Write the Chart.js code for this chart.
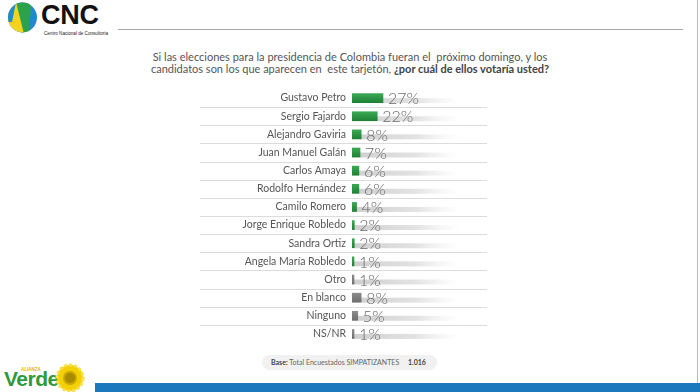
<!DOCTYPE html>
<html><head><meta charset="utf-8">
<script src="https://cdn.jsdelivr.net/npm/chart.js@4.4.1/dist/chart.umd.min.js"></script>
<style>
html,body{margin:0;padding:0;background:#fff;}
#page{position:relative;width:700px;height:392px;overflow:hidden;background:#fff;font-family:Lato,"Open Sans",sans-serif;}
#wrap{position:absolute;left:190px;top:89px;width:310px;height:254px;}
.title{position:absolute;left:0;width:700px;text-align:center;color:#555;font-size:11px;line-height:12px;}
</style></head>
<body><div id="page">
<svg style="position:absolute;left:7px;top:2px" width="32" height="32" viewBox="0 0 32 32">
<defs><clipPath id="c"><ellipse cx="15.5" cy="15.5" rx="14.5" ry="15"/></clipPath></defs>
<g clip-path="url(#c)">
<rect x="0" y="0" width="32" height="32" fill="#1f8bcb"/>
<polygon points="9,0 24,0 22,32 12,32" fill="#2ea24a"/>
<polygon points="9,0 17,32 0,32 0,0" fill="#f2d322"/>
<polygon points="0,0 9,0 5,20 0,20" fill="#1f8bcb"/>
</g></svg>
<div style="position:absolute;left:41px;top:0px;font:bold 27px 'Liberation Sans',Arial,sans-serif;color:#111;letter-spacing:-0.3px">CNC</div>
<div style="position:absolute;left:44px;top:31px;font:4.6px 'Liberation Sans',Arial,sans-serif;color:#222">Centro Nacional de Consultoría</div>
<div style="position:absolute;left:118px;top:29px;width:565px;height:1px;background:#aaa"></div>
<div style="position:absolute;left:697px;top:0;width:1px;height:383px;background:#bbb"></div>
<div class="title" style="top:51px">Si las elecciones para la presidencia de Colombia fueran el&nbsp; próximo domingo, y los</div>
<div class="title" style="top:63px">candidatos son los que aparecen en&nbsp; este tarjetón, <b style="color:#444">¿por cuál de ellos votaría usted?</b></div>
<div id="wrap"><canvas id="chart"></canvas></div>
<div style="position:absolute;left:262px;top:355px;width:175px;height:15px;border-radius:8px;background:#f1f1f1;font-size:7px;line-height:15px;color:#666;">
<span style="margin-left:9px"><b style="color:#444">Base:</b> Total Encuestados SIMPATIZANTES</span><b style="position:absolute;left:146px;color:#444">1.016</b></div>
<div style="position:absolute;left:21px;top:367px;font:bold 4.5px 'Liberation Sans',sans-serif;color:#e3b600">ALIANZA</div>
<div style="position:absolute;left:4px;top:367px;font:bold 21px 'Liberation Sans',Arial,sans-serif;color:#2f9a3c;letter-spacing:-0.5px">Verde</div>
<svg style="position:absolute;left:55px;top:363px" width="30" height="29" viewBox="0 0 30 29">
<circle cx="15" cy="15" r="13" fill="#f4d000"/>
<circle cx="15" cy="15" r="13" fill="none" stroke="#f7e04a" stroke-width="3" stroke-dasharray="3 2"/>
<circle cx="15" cy="15" r="7" fill="#c9a600"/>
<circle cx="15" cy="15" r="5" fill="#a88a00"/>
</svg>
<div style="position:absolute;left:95px;top:383px;width:605px;height:9px;background:#1b78bd"></div>
</div>
<script>
const categories = ["Gustavo Petro","Sergio Fajardo","Alejandro Gaviria","Juan Manuel Galán","Carlos Amaya","Rodolfo Hernández","Camilo Romero","Jorge Enrique Robledo","Sandra Ortiz","Angela María Robledo","Otro","En blanco","Ninguno","NS/NR"];
const values = [27,22,8,7,6,6,4,2,2,1,1,8,5,1];
const isCandidate = [true,true,true,true,true,true,true,true,true,true,false,false,false,false];

function barColor(ctx){
  const chart = ctx.chart, a = chart.chartArea;
  const i = ctx.dataIndex;
  if(!a) return isCandidate[i] ? '#2f9c45' : '#808080';
  const y = chart.scales.y.getPixelForValue(i);
  const g = chart.ctx.createLinearGradient(0, y-4.5, 0, y+4.5);
  if(isCandidate[i]){ g.addColorStop(0,'#3aa853'); g.addColorStop(1,'#1f8236'); }
  else { g.addColorStop(0,'#8c8c8c'); g.addColorStop(1,'#6e6e6e'); }
  return g;
}

const decor = {
  id:'decor',
  beforeDatasetsDraw(chart){
    const {ctx, chartArea:a, scales:{y}} = chart;
    const step = y.getPixelForValue(1) - y.getPixelForValue(0);
    ctx.save();
    for(let i=0;i<categories.length;i++){
      const cy = y.getPixelForValue(i);
      const g = ctx.createLinearGradient(a.left,0,a.left+108,0);
      g.addColorStop(0,'rgba(200,200,200,0.9)');
      g.addColorStop(0.6,'rgba(215,215,215,0.7)');
      g.addColorStop(1,'rgba(235,235,235,0)');
      ctx.fillStyle = g;
      ctx.fillRect(a.left, cy, 108, 5);
      const ly = Math.round(cy + step/2) + 0.5;
      ctx.strokeStyle = '#dcdcdc'; ctx.lineWidth = 1;
      ctx.beginPath(); ctx.moveTo(a.left-152, ly); ctx.lineTo(a.left+135, ly); ctx.stroke();
    }
    ctx.restore();
  },
  afterDatasetsDraw(chart){
    const {ctx} = chart;
    const meta = chart.getDatasetMeta(0);
    ctx.save();
    ctx.font = '300 16px Lato, "Open Sans", sans-serif';
    ctx.fillStyle = '#676767';
    ctx.textBaseline = 'middle';
    ctx.textAlign = 'left';
    meta.data.forEach((bar,i)=>{
      ctx.fillText(values[i] + '%', bar.x + 5, bar.y + 1);
    });
    ctx.restore();
  }
};

new Chart(document.getElementById('chart'), {
  type:'bar',
  data:{labels:categories, datasets:[{data:values,
    backgroundColor: barColor,
    barThickness:9, minBarLength:2, borderWidth:0}]},
  options:{
    indexAxis:'y', responsive:true, maintainAspectRatio:false, animation:false,
    layout:{padding:0},
    plugins:{legend:{display:false}, tooltip:{enabled:false}},
    scales:{
      x:{display:false, min:0, max:129},
      y:{grid:{display:false, drawTicks:false}, border:{display:false},
         ticks:{color:'#555', font:{family:'Lato, "Open Sans", sans-serif', size:10.5}, padding:6},
         afterFit(s){ s.width = 162; s.paddingTop = 0; s.paddingBottom = 0; }}
    }
  },
  plugins:[decor]
});
</script>
</body></html>
